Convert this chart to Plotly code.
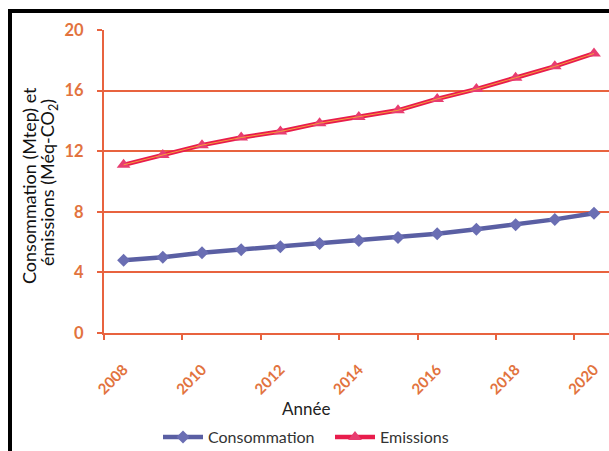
import plotly.graph_objects as go

# Série annuelle
annees = list(range(2008, 2021))
consommation = [4.8, 5.0, 5.3, 5.5, 5.7, 5.9, 6.1, 6.3, 6.55, 6.85, 7.15, 7.5, 7.9]
emissions = [11.1, 11.75, 12.4, 12.9, 13.3, 13.85, 14.25, 14.7, 15.45, 16.1, 16.85, 17.6, 18.45]
y_ticks = [0, 4, 8, 12, 16, 20]
x_ticks = list(range(2008, 2021, 2))
titre_y = ["Consommation (Mtep) et", "émissions (Méq-CO<sub>2</sub>)"]

W, H = 609, 451
ML, MR, MT, MB = 104, 0, 30, 118
PW, PH = W - ML - MR, H - MT - MB

AXE = "#E8633F"
TXT_AXE = "#E2733E"
BLEU = "#5A5FA3"
ROUGE = "#E81C4C"
ORANGE = "#F5A03A"
FONT = "Lato"


def px_x(px):
    return (px - ML) / PW


def px_y(py):
    return (H - MB - py) / PH


fig = go.Figure()

fig.add_trace(go.Scatter(
    x=annees, y=consommation, name="Consommation", mode="lines+markers",
    line=dict(color=BLEU, width=4.5),
    marker=dict(symbol="diamond", size=10, color="#6A6EB3"),
))
fig.add_trace(go.Scatter(
    x=annees, y=emissions, name="Emissions", mode="lines+markers",
    line=dict(color=ROUGE, width=4.5),
    marker=dict(symbol="triangle-up", size=12, color="#E83D70"),
))
# reflet orangé au centre de la courbe des émissions
fig.add_trace(go.Scatter(
    x=annees, y=emissions, mode="lines", showlegend=False, hoverinfo="skip",
    line=dict(color=ORANGE, width=1),
))

# titre vertical sur deux lignes, chacune centrée
annotations = [
    dict(
        text=ligne, xref="paper", yref="paper", x=px_x(cx), y=px_y(cy),
        xanchor="center", yanchor="middle", textangle=-90,
        showarrow=False,
        font=dict(family=FONT, size=18, color="#111"),
    )
    for ligne, cx, cy in zip(titre_y, [29, 48], [186, 183])
]
annotations.append(dict(
    text="Année", xref="paper", yref="paper",
    x=px_x(306), y=px_y(408), xanchor="center", yanchor="middle",
    showarrow=False, font=dict(family=FONT, size=17, color="#222"),
))

fig.update_layout(
    width=W, height=H,
    margin=dict(l=ML, r=MR, t=MT, b=MB, autoexpand=False),
    paper_bgcolor="white", plot_bgcolor="white",
    font=dict(family=FONT, color="#222"),
    showlegend=True,
    legend=dict(
        orientation="h", x=px_x(158), y=px_y(437), xanchor="left", yanchor="middle",
        font=dict(family=FONT, size=16, color="#333"),
        itemwidth=40, entrywidth=117, entrywidthmode="pixels",
        bgcolor="rgba(0,0,0,0)",
    ),
    xaxis=dict(
        range=[2007.5, 2007.5 + PW / 39.2], automargin=False,
        tickmode="array", tickvals=x_ticks, ticktext=[str(v) for v in x_ticks],
        tickangle=-45, ticks="", ticklabelstandoff=20,
        tickfont=dict(family=FONT, size=15, color=TXT_AXE, weight="bold"),
        showgrid=False, zeroline=False,
        showline=True, linecolor=AXE, linewidth=2,
        minor=dict(tick0=2007.5, dtick=2, ticks="outside", ticklen=5,
                   tickwidth=2, tickcolor=AXE, showgrid=False),
    ),
    yaxis=dict(
        range=[0, 20], automargin=False,
        tickmode="array", tickvals=y_ticks,
        ticks="outside", ticklen=5, tickwidth=2, tickcolor=AXE,
        ticklabelstandoff=10,
        tickfont=dict(family=FONT, size=16.5, color=TXT_AXE, weight="bold"),
        showgrid=True, gridcolor=AXE, gridwidth=2,
        zeroline=False,
        showline=True, linecolor=AXE, linewidth=2,
    ),
    annotations=annotations,
    shapes=[
        # cadre noir (bords gauche et haut)
        dict(type="line", xref="paper", yref="paper",
             x0=px_x(10), x1=px_x(10), y0=px_y(9), y1=px_y(H + 20),
             line=dict(color="black", width=4)),
        dict(type="line", xref="paper", yref="paper",
             x0=px_x(8), x1=px_x(W + 5), y0=px_y(11), y1=px_y(11),
             line=dict(color="black", width=4)),
    ],
)

fig.write_html("out.html")
